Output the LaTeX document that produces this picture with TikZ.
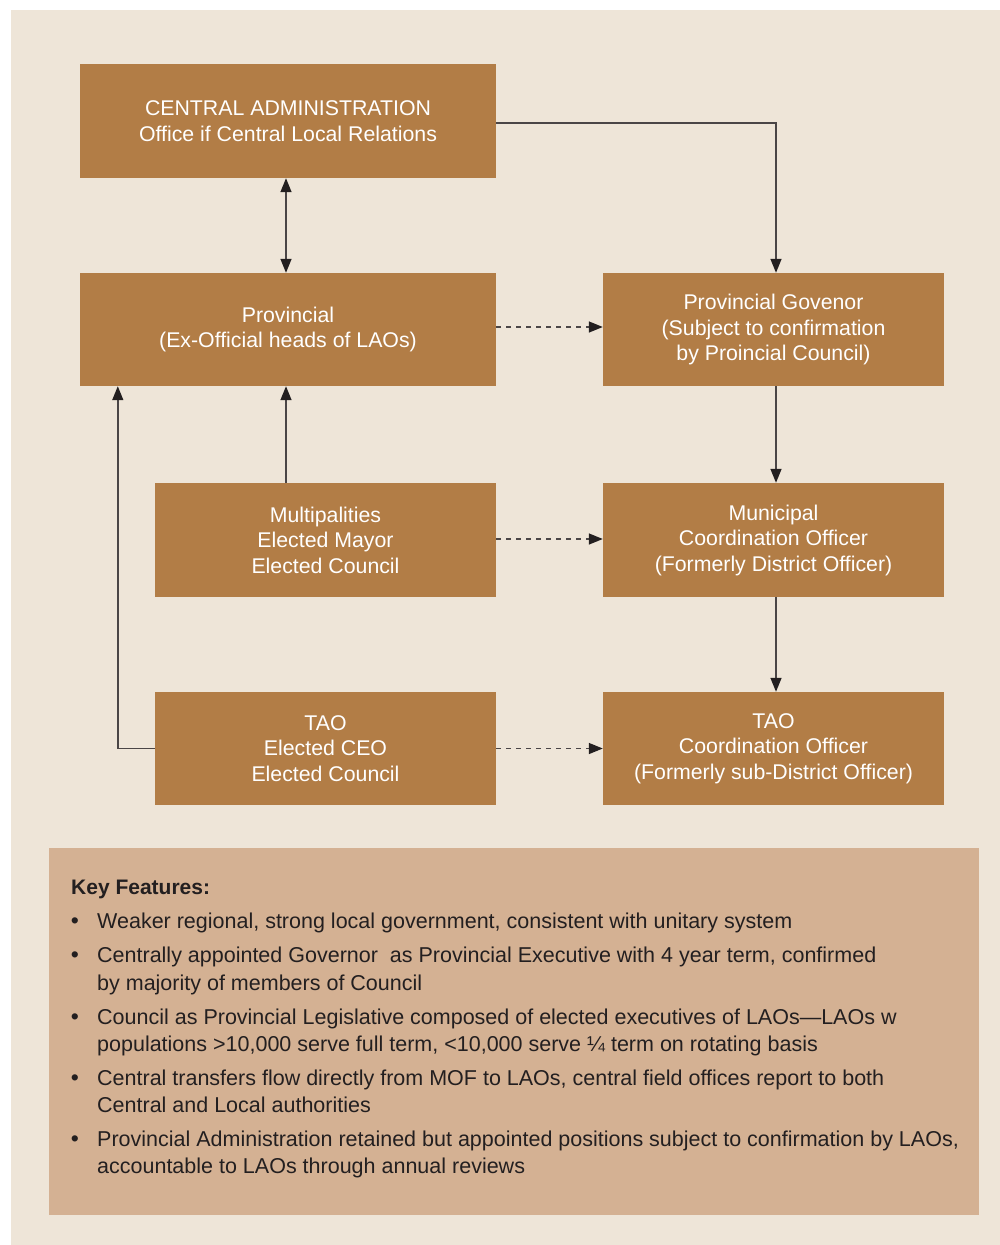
\documentclass[tikz,border=0pt]{standalone}
\usepackage{fontspec}
\setmainfont{Liberation Sans}
\usetikzlibrary{arrows.meta,calc}
\definecolor{bgc}{HTML}{EEE5D8}
\definecolor{boxc}{HTML}{B27D46}
\definecolor{keyc}{HTML}{D4B193}
\definecolor{linec}{HTML}{4A4546}
\definecolor{tipc}{HTML}{231F20}
\definecolor{txtc}{HTML}{231F20}
\begin{document}
\begin{tikzpicture}[x=1pt,y=-1pt,
  orgbox/.style={draw=none,fill=boxc,text=white,align=center,inner sep=0pt,
    font=\fontsize{21.3}{25.5}\selectfont},
  conn/.style={draw=linec,line width=1.4pt,
    -{Triangle[length=14pt,width=11pt,color=tipc]}},
  biconn/.style={draw=linec,line width=1.4pt,
    {Triangle[length=14pt,width=11pt,color=tipc]}-{Triangle[length=14pt,width=11pt,color=tipc]}},
  dconn/.style={conn,dash pattern=on 5pt off 5pt},
  keytxt/.style={anchor=mid west,inner sep=0pt,text=txtc,font=\fontsize{21.5}{26}\selectfont},
  bul/.style={anchor=base,inner sep=0pt,text=txtc,font=\fontsize{23}{26}\selectfont}]
\useasboundingbox (0,0) rectangle (1000,1245);
\fill[white] (0,0) rectangle (1000,1245);
\fill[bgc] (11,10) rectangle (1000,1245);
\fill[keyc] (49,848) rectangle (979,1215);

\node[orgbox,minimum width=416pt,minimum height=114pt] (central) at (288,121)
  {CENTRAL ADMINISTRATION\\Office if Central Local Relations};
\node[orgbox,minimum width=416pt,minimum height=113pt] (prov) at (288,329.5)
  {Provincial\\(Ex-Official heads of LAOs)};
\node[orgbox,minimum width=341pt,minimum height=113pt] (gov) at (773.5,329.5)
  {Provincial Govenor\\(Subject to confirmation\\by Proincial Council)};
\node[orgbox,minimum width=341pt,minimum height=114pt] (muni) at (325.5,540)
  {Multipalities\\Elected Mayor\\Elected Council};
\node[orgbox,minimum width=341pt,minimum height=114pt] (mco) at (773.5,540)
  {Municipal\\Coordination Officer\\(Formerly District Officer)};
\node[orgbox,minimum width=341pt,minimum height=113pt] (taol) at (325.5,748.5)
  {TAO\\Elected CEO\\Elected Council};
\node[orgbox,minimum width=341pt,minimum height=113pt] (taor) at (773.5,748.5)
  {TAO\\Coordination Officer\\(Formerly sub-District Officer)};

\draw[conn] ([yshift=-2pt]central.east) -| ([xshift=2.5pt]gov.north);
\draw[biconn] ([xshift=-2pt]central.south) -- ([xshift=-2pt]prov.north);
\draw[dconn] ([yshift=2.5pt]prov.east) -- ([yshift=2.5pt]gov.west);
\draw[conn] ([xshift=2.5pt]gov.south) -- ([xshift=2.5pt]mco.north);
\draw[conn] ([xshift=-2pt]muni.north -| prov.south) -- ([xshift=-2pt]prov.south);
\draw[dconn] ([yshift=1pt]muni.east) -- ([yshift=1pt]mco.west);
\draw[conn] ([xshift=2.5pt]mco.south) -- ([xshift=2.5pt]taor.north);
\draw[dconn] (taol.east) -- (taor.west);
\draw[conn] (taol.west) -| ([xshift=38pt]prov.south west);

\node[keytxt,font=\fontsize{21}{26}\selectfont\bfseries] (kt) at (71,892) {Key Features:};
\node[keytxt] (t1) at (97,926) {Weaker regional, strong local government, consistent with unitary system};
\node[keytxt] (t2a) at (97,960) {Centrally appointed Governor\ \ as Provincial Executive with 4 year term, confirmed};
\node[keytxt] (t2b) at (97,988) {by majority of members of Council};
\node[keytxt] (t3a) at (97,1022) {Council as Provincial Legislative composed of elected executives of LAOs—LAOs w};
\node[keytxt] (t3b) at (97,1049) {populations >10,000 serve full term, <10,000 serve ¼ term on rotating basis};
\node[keytxt] (t4a) at (97,1083) {Central transfers flow directly from MOF to LAOs, central field offices report to both};
\node[keytxt] (t4b) at (97,1110) {Central and Local authorities};
\node[keytxt] (t5a) at (97,1144) {Provincial Administration retained but appointed positions subject to confirmation by LAOs,};
\node[keytxt] (t5b) at (97,1171) {accountable to LAOs through annual reviews};
\coordinate (bx) at (75,0);
\node[bul] (b1) at (bx |- t1.base) {•};
\node[bul] (b2) at (bx |- t2a.base) {•};
\node[bul] (b3) at (bx |- t3a.base) {•};
\node[bul] (b4) at (bx |- t4a.base) {•};
\node[bul] (b5) at (bx |- t5a.base) {•};
\end{tikzpicture}
\end{document}
